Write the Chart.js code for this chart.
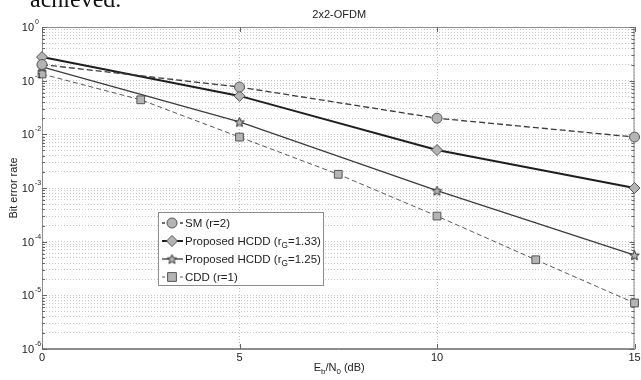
<!DOCTYPE html>
<html>
<head>
<meta charset="utf-8">
<script src="https://cdn.jsdelivr.net/npm/chart.js@4"></script>
<style>
  body { margin: 0; background: #fff; }
  canvas { display: block; }
</style>
</head>
<body>
<canvas id="myChart" width="641" height="380"></canvas>
<script>
// Eb/N0 points (dB)
const snr = [0, 5, 10, 15];
const snrCdd = [0, 2.5, 5, 7.5, 10, 12.5, 15];

// bit error rates
const berSM = [0.20, 0.076, 0.020, 0.0089];
const berHcdd133 = [0.275, 0.052, 0.0051, 0.0010];
const berHcdd125 = [0.18, 0.017, 0.00089, 0.000056];
const berCdd = [0.133, 0.044, 0.0089, 0.0018, 0.0003, 0.000046, 0.0000072];

const seriesNames = ['SM (r=2)', 'Proposed HCDD (r_G=1.33)', 'Proposed HCDD (r_G=1.25)', 'CDD (r=1)'];
const xTicks = [0, 5, 10, 15];
const yDecades = [-6, -5, -4, -3, -2, -1, 0];

const FONT = '"Liberation Sans", Arial, sans-serif';
const markFill = '#b4b4b4';
const markEdge = '#555';

function starPath(g, cx, cy, r) {
  g.beginPath();
  for (let i = 0; i < 10; i++) {
    const rr = i % 2 ? r * 0.45 : r;
    const a = -Math.PI / 2 + i * Math.PI / 5;
    g.lineTo(cx + rr * Math.cos(a), cy + rr * Math.sin(a));
  }
  g.closePath();
}

function starCanvas(r) {
  const c = document.createElement('canvas');
  const s = Math.ceil(r * 2 + 3);
  c.width = c.height = s;
  const g = c.getContext('2d');
  starPath(g, s / 2, s / 2 + 0.5, r);
  g.fillStyle = markFill;
  g.fill();
  g.strokeStyle = '#333';
  g.lineWidth = 1;
  g.stroke();
  return c;
}
const star = starCanvas(5);

function pts(xs, ys) {
  return xs.map((x, i) => ({x: x, y: ys[i]}));
}

const styles = [
  {color: '#3a3a3a', width: 1.3, dash: [6, 3], point: 'circle', radius: 5},
  {color: '#1e1e1e', width: 2, dash: [], point: 'rectRot', radius: 5.5},
  {color: '#3c3c3c', width: 1.3, dash: [], point: star, radius: 5},
  {color: '#5a5a5a', width: 1, dash: [5, 3], point: 'rect', radius: 5.5}
];
const seriesData = [pts(snr, berSM), pts(snr, berHcdd133), pts(snr, berHcdd125), pts(snrCdd, berCdd)];

// draw text where "_X" means subscript X
function richWidth(ctx, str, size) {
  let w = 0;
  const parts = str.split(/_(.)/);
  parts.forEach((p, i) => {
    ctx.font = (i % 2 ? size * 0.72 : size) + 'px ' + FONT;
    w += ctx.measureText(p).width;
  });
  return w;
}
function richText(ctx, str, x, y, size) {
  const parts = str.split(/_(.)/);
  ctx.textAlign = 'left';
  parts.forEach((p, i) => {
    const sub = i % 2 === 1;
    ctx.font = (sub ? size * 0.72 : size) + 'px ' + FONT;
    ctx.fillText(p, x, sub ? y + size * 0.3 : y);
    x += ctx.measureText(p).width;
  });
}

function drawMarker(ctx, st, x, y) {
  if (st.point === star) {
    ctx.drawImage(star, x - star.width / 2, y - star.height / 2);
    return;
  }
  const r = st.radius;
  ctx.beginPath();
  if (st.point === 'circle') ctx.arc(x, y, r, 0, Math.PI * 2);
  else if (st.point === 'rectRot') { ctx.moveTo(x, y - r); ctx.lineTo(x + r, y); ctx.lineTo(x, y + r); ctx.lineTo(x - r, y); ctx.closePath(); }
  else { const h = r * 0.8; ctx.rect(x - h, y - h, 2 * h, 2 * h); }
  ctx.fillStyle = markFill;
  ctx.fill();
  ctx.strokeStyle = markEdge;
  ctx.lineWidth = 1;
  ctx.setLineDash([]);
  ctx.stroke();
}

const matlabFrame = {
  id: 'matlabFrame',
  beforeDatasetsDraw(chart) {
    const {ctx, chartArea: a, scales: {x, y}} = chart;
    ctx.save();
    ctx.strokeStyle = '#8c8c8c';
    ctx.lineWidth = 1;
    ctx.strokeRect(a.left + 0.5, a.top + 0.5, a.right - a.left - 1, a.bottom - a.top - 1);
    ctx.strokeStyle = '#666';
    ctx.beginPath();
    y.ticks.forEach(t => {
      const py = Math.round(y.getPixelForValue(t.value)) + 0.5;
      const len = yDecades.includes(Math.round(Math.log10(t.value) * 1000) / 1000) ? 5 : 3;
      ctx.moveTo(a.left, py); ctx.lineTo(a.left + len, py);
      ctx.moveTo(a.right, py); ctx.lineTo(a.right - len, py);
    });
    x.ticks.forEach(t => {
      const px = Math.round(x.getPixelForValue(t.value)) + 0.5;
      ctx.moveTo(px, a.bottom); ctx.lineTo(px, a.bottom - 5);
      ctx.moveTo(px, a.top); ctx.lineTo(px, a.top + 5);
    });
    ctx.stroke();
    ctx.restore();
  },
  afterDraw(chart) {
    const {ctx, chartArea: a, scales: {x, y}} = chart;
    ctx.save();
    ctx.fillStyle = '#222';

    // tick labels
    ctx.textBaseline = 'middle';
    yDecades.forEach(d => {
      const py = y.getPixelForValue(Math.pow(10, d));
      ctx.font = '11px ' + FONT;
      ctx.textAlign = 'right';
      ctx.fillText('10', a.left - 8, py + 1);
      ctx.font = '7px ' + FONT;
      ctx.textAlign = 'left';
      ctx.fillText(String(d), a.left - 7, py - 5);
    });
    ctx.font = '11px ' + FONT;
    ctx.textAlign = 'center';
    xTicks.forEach(v => ctx.fillText(String(v), x.getPixelForValue(v), a.bottom + 9));

    // titles
    ctx.textBaseline = 'alphabetic';
    ctx.fillText('2x2-OFDM', (a.left + a.right) / 2 + 1, 18);
    const xt = 'E_b/N_0 (dB)';
    richText(ctx, xt, (a.left + a.right) / 2 + 1 - richWidth(ctx, xt, 11) / 2, 371, 11);
    ctx.save();
    ctx.translate(17, 188);
    ctx.rotate(-Math.PI / 2);
    ctx.font = '11px ' + FONT;
    ctx.textAlign = 'center';
    ctx.fillText('Bit error rate', 0, 0);
    ctx.restore();

    // legend
    const lx = 158, ly = 212, lw = 165, lh = 73;
    ctx.fillStyle = '#fff';
    ctx.fillRect(lx, ly, lw, lh);
    ctx.strokeStyle = '#8c8c8c';
    ctx.lineWidth = 1;
    ctx.strokeRect(lx + 0.5, ly + 0.5, lw, lh);
    seriesNames.forEach((name, i) => {
      const st = styles[i];
      const ry = ly + 11 + i * 18;
      ctx.strokeStyle = st.color;
      ctx.lineWidth = st.width;
      ctx.setLineDash(st.dash.length ? [3, 3] : []);
      ctx.beginPath();
      ctx.moveTo(lx + 4, ry); ctx.lineTo(lx + 25, ry);
      ctx.stroke();
      drawMarker(ctx, st, lx + 14, ry);
      ctx.fillStyle = '#222';
      richText(ctx, name, lx + 27, ry + 4, 11.5);
    });

    // bit of page text above the figure
    ctx.fillStyle = '#111';
    ctx.font = '24px "Liberation Serif", "Times New Roman", serif';
    ctx.textAlign = 'left';
    ctx.fillText('achieved.', 30, 7);
    ctx.restore();
  }
};

new Chart(document.getElementById('myChart'), {
  type: 'line',
  data: {
    datasets: seriesNames.map((name, i) => ({
      label: name,
      data: seriesData[i],
      borderColor: styles[i].color,
      borderWidth: styles[i].width,
      borderDash: styles[i].dash,
      pointStyle: styles[i].point,
      pointRadius: styles[i].radius,
      pointBackgroundColor: markFill,
      pointBorderColor: markEdge,
      pointBorderWidth: 1,
      tension: 0,
      clip: false
    }))
  },
  options: {
    responsive: false,
    animation: false,
    events: [],
    layout: { padding: { left: 42, top: 27, right: 3, bottom: 31 } },
    plugins: {
      legend: { display: false },
      title: { display: false },
      tooltip: { enabled: false }
    },
    scales: {
      x: {
        type: 'linear', min: 0, max: 15,
        afterBuildTicks: s => { s.ticks = xTicks.map(v => ({value: v})); },
        ticks: { display: false },
        grid: { color: '#bdbdbd', drawTicks: false },
        border: { dash: [1, 2], color: '#8c8c8c' }
      },
      y: {
        type: 'logarithmic', min: 1e-6, max: 1,
        afterBuildTicks: s => {
          const t = [];
          yDecades.forEach(d => {
            for (let m = 1; m < 10; m++) {
              const v = m * Math.pow(10, d);
              if (v <= 1) t.push({value: v});
            }
          });
          s.ticks = t;
        },
        ticks: { display: false, autoSkip: false },
        grid: { color: '#c6c6c6', drawTicks: false },
        border: { dash: [1, 2], color: '#8c8c8c' }
      }
    }
  },
  plugins: [matlabFrame]
});
</script>
</body>
</html>
